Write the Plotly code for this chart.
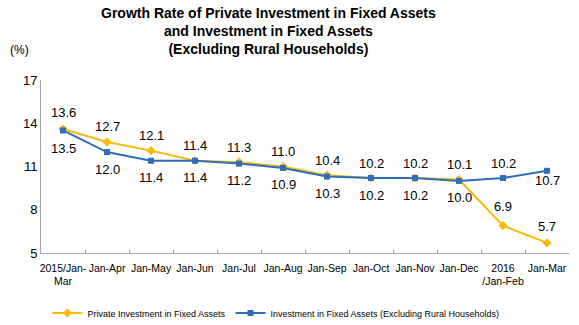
import plotly.graph_objects as go

categories = ["2015/Jan-<br>Mar", "Jan-Apr", "Jan-May", "Jan-Jun", "Jan-Jul", "Jan-Aug",
              "Jan-Sep", "Jan-Oct", "Jan-Nov", "Jan-Dec", "2016<br>/Jan-Feb", "Jan-Mar"]
private_inv = [13.6, 12.7, 12.1, 11.4, 11.3, 11.0, 10.4, 10.2, 10.2, 10.1, 6.9, 5.7]
total_inv = [13.5, 12.0, 11.4, 11.4, 11.2, 10.9, 10.3, 10.2, 10.2, 10.0, 10.2, 10.7]
private_label_shift = [17, 15, 15, 15, 15, 15, 15, 15, 15, 15, 19, 16]
total_label_shift = [-18, -17, -17, -17, -17, -17, -17, -17, -17, -17, 15, -10]
yticks = [5, 8, 11, 14, 17]

YELLOW = "#F7BA0B"
BLUE = "#2F6EBA"
FONT = "Arial, Liberation Sans, sans-serif"

fig = go.Figure()
fig.add_trace(go.Scatter(
    x=categories, y=private_inv, mode="lines+markers",
    name="Private Investment in Fixed Assets",
    line=dict(color=YELLOW, width=2), marker=dict(symbol="diamond", size=7, color=YELLOW),
))
fig.add_trace(go.Scatter(
    x=categories, y=total_inv, mode="lines+markers",
    name="Investment in Fixed Assets (Excluding Rural Households)",
    line=dict(color=BLUE, width=2), marker=dict(symbol="square", size=6, color=BLUE),
))

annotations = []
for cat, v, s in zip(categories, private_inv, private_label_shift):
    annotations.append(dict(x=cat, y=v, text=f"{v:.1f}", showarrow=False, yshift=s,
                            xanchor="center", yanchor="middle",
                            font=dict(family=FONT, size=13, color="#000")))
for cat, v, s in zip(categories, total_inv, total_label_shift):
    annotations.append(dict(x=cat, y=v, text=f"{v:.1f}", showarrow=False, yshift=s,
                            xanchor="center", yanchor="middle",
                            font=dict(family=FONT, size=13, color="#000")))
annotations.append(dict(text="(%)", xref="paper", yref="paper", x=-0.04, y=(253 - 50) / 173,
                        xanchor="center", yanchor="middle", showarrow=False,
                        font=dict(family=FONT, size=12, color="#000")))
annotations.append(dict(
    text="<b>Growth Rate of Private Investment in Fixed Assets<br>and Investment in Fixed Assets<br>(Excluding Rural Households)</b>",
    xref="paper", yref="paper", x=(268 - 41) / 528, y=(253 - 3) / 173,
    xanchor="center", yanchor="top", showarrow=False, align="center",
    font=dict(family=FONT, size=14, color="#000")))

fig.update_layout(
    width=579, height=325,
    margin=dict(l=41, r=10, t=80, b=72, autoexpand=False),
    paper_bgcolor="white", plot_bgcolor="white",
    font=dict(family=FONT, color="#000"),
    showlegend=True,
    legend=dict(orientation="h", x=0.445, xanchor="center", y=(253 - 313) / 173, yanchor="middle",
                font=dict(family=FONT, size=9, color="#000")),
    annotations=annotations,
)
fig.update_xaxes(
    showline=True, linecolor="#A6A6A6", linewidth=1, showgrid=False,
    ticks="inside", ticklen=4, tickcolor="#A6A6A6", tickson="boundaries",
    tickangle=0, tickfont=dict(family=FONT, size=10.5, color="#000"),
    ticklabelstandoff=5,
    range=[-0.5, 11.5], fixedrange=True, automargin=False,
)
fig.update_yaxes(
    range=[5, 17], tickvals=yticks, showline=True, linecolor="#A6A6A6", linewidth=1,
    showgrid=False, ticks="", tickfont=dict(family=FONT, size=13, color="#000"),
    zeroline=False, automargin=False,
)

fig.write_html("out.html")
